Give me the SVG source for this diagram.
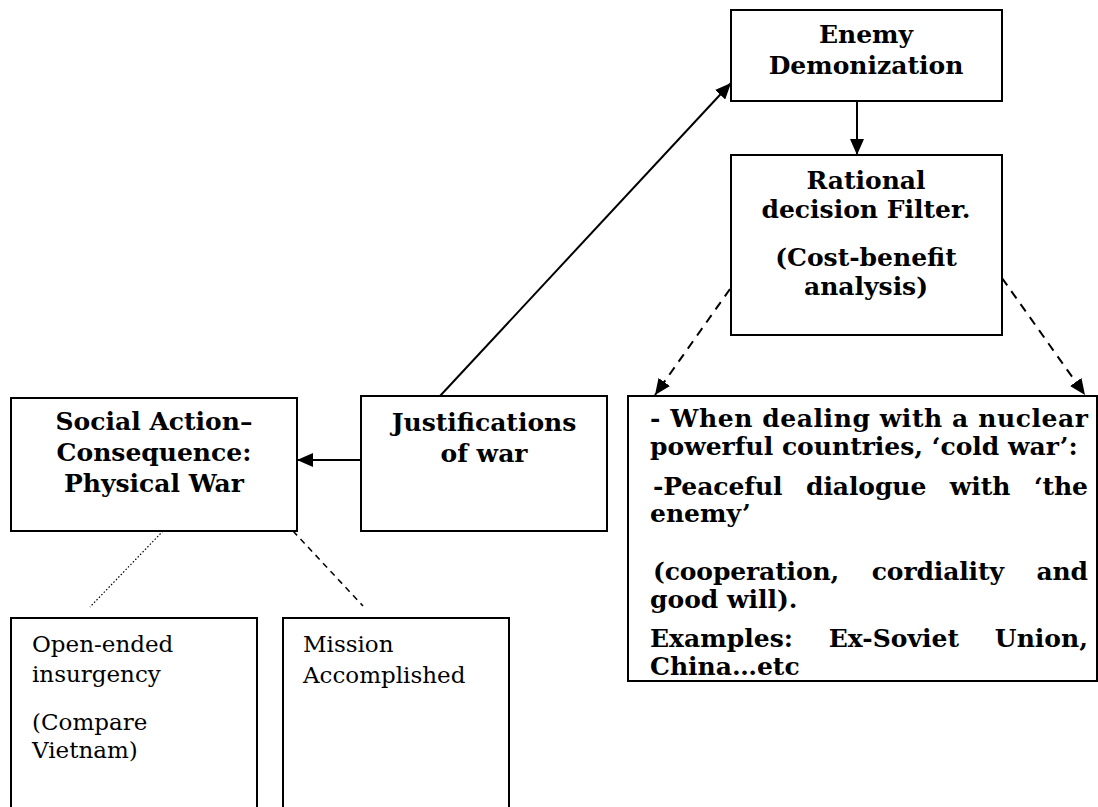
<svg xmlns="http://www.w3.org/2000/svg" width="1098" height="807" viewBox="0 0 1098 807">
<style>
.box{fill:#fff;stroke:#000;stroke-width:2}
.b{font-family:"DejaVu Serif","Liberation Serif",serif;font-weight:bold;font-size:25px;fill:#000}
.r{font-family:"DejaVu Serif","Liberation Serif",serif;font-size:23px;fill:#000}
.c{text-anchor:middle}
.ln{stroke:#000;stroke-width:2;fill:none}
</style>
<defs>
<marker id="ah" markerUnits="userSpaceOnUse" markerWidth="16" markerHeight="14" refX="16" refY="7" orient="auto" viewBox="0 0 16 14">
<path d="M0,0 L16,7 L0,14 z" fill="#000"/>
</marker>
</defs>
<rect width="1098" height="807" fill="#fff"/>
<g id="connectors">
<line class="ln" x1="440" y1="396" x2="731" y2="83" marker-end="url(#ah)"/>
<line class="ln" x1="857" y1="101" x2="857" y2="155" marker-end="url(#ah)"/>
<line class="ln" x1="360" y1="460" x2="297" y2="460" marker-end="url(#ah)"/>
<line class="ln" x1="730" y1="289" x2="655" y2="395" stroke-dasharray="9,7" marker-end="url(#ah)"/>
<line class="ln" x1="1002" y1="278" x2="1085" y2="395" stroke-dasharray="9,7" marker-end="url(#ah)"/>
<line x1="163" y1="531" x2="90" y2="607" stroke="#000" stroke-width="1.2" stroke-dasharray="1.5,2"/>
<line x1="293" y1="531" x2="363" y2="606" stroke="#000" stroke-width="1.5" stroke-dasharray="6,5"/>
</g>
<g id="enemy">
<rect class="box" x="731" y="10" width="271" height="91"/>
<text class="b c" x="866" y="43">Enemy</text>
<text class="b c" x="866" y="74">Demonization</text>
</g>
<g id="rational">
<rect class="box" x="731" y="155" width="271" height="180"/>
<text class="b c" x="866" y="189">Rational</text>
<text class="b c" x="866" y="218">decision Filter.</text>
<text class="b c" x="866" y="266">(Cost-benefit</text>
<text class="b c" x="866" y="295">analysis)</text>
</g>
<g id="social">
<rect class="box" x="11" y="398" width="286" height="133"/>
<text class="b c" x="154" y="430">Social Action–</text>
<text class="b c" x="154" y="461">Consequence:</text>
<text class="b c" x="154" y="492">Physical War</text>
</g>
<g id="justifications">
<rect class="box" x="361" y="396" width="246" height="135"/>
<text class="b c" x="484" y="431">Justifications</text>
<text class="b c" x="484" y="462">of war</text>
</g>
<g id="coldwar">
<rect class="box" x="628" y="396" width="469" height="285"/>
<text class="b" x="650" y="427" textLength="438" lengthAdjust="spacing">- When dealing with a nuclear</text>
<text class="b" x="650" y="455">powerful countries, ‘cold war’:</text>
<text class="b" x="653" y="495" word-spacing="15" textLength="435" lengthAdjust="spacing">-Peaceful dialogue with ‘the</text>
<text class="b" x="650" y="522">enemy’</text>
<text class="b" x="653" y="580" word-spacing="24" textLength="435" lengthAdjust="spacing">(cooperation, cordiality and</text>
<text class="b" x="650" y="608">good will).</text>
<text class="b" x="650" y="647" word-spacing="27" textLength="438" lengthAdjust="spacing">Examples: Ex-Soviet Union,</text>
<text class="b" x="650" y="675">China…etc</text>
</g>
<g id="insurgency">
<rect class="box" x="11" y="618" width="246" height="195"/>
<text class="r" x="32" y="652">Open-ended</text>
<text class="r" x="32" y="682">insurgency</text>
<text class="r" x="32" y="730">(Compare</text>
<text class="r" x="32" y="758">Vietnam)</text>
</g>
<g id="mission">
<rect class="box" x="283" y="618" width="226" height="195"/>
<text class="r" x="303" y="652">Mission</text>
<text class="r" x="303" y="683">Accomplished</text>
</g>
</svg>
